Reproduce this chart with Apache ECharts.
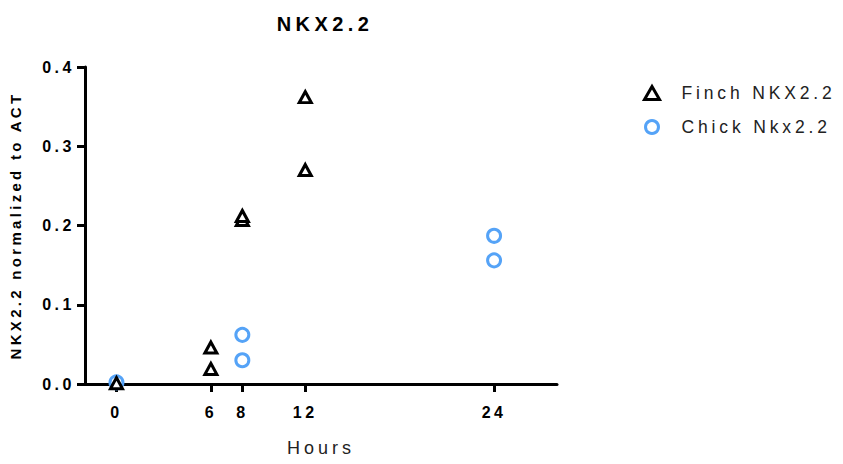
<!DOCTYPE html>
<html>
<head>
<meta charset="utf-8">
<script src="https://cdn.jsdelivr.net/npm/echarts@6/dist/echarts.min.js"></script>
<style>
  html, body { margin: 0; padding: 0; background: #fff; }
  #chart { width: 843px; height: 464px; }
  /* wide tracking on every label */
  #chart text { letter-spacing: 0.22em; }
</style>
</head>
<body>
<div id="chart"></div>
<script>
// Time points (hours) and expression values, normalized to ACT
const finchHours = [0, 6, 6, 8, 8, 12, 12];
const finchValues = [0.001, 0.046, 0.019, 0.207, 0.212, 0.362, 0.270];
const chickHours = [0, 8, 8, 24, 24];
const chickValues = [0.002, 0.062, 0.030, 0.187, 0.156];
const hourTicks = [0, 6, 8, 12, 24];
const seriesNames = ['Finch NKX2.2', 'Chick Nkx2.2'];

const FONT = '"Liberation Sans", Arial, Helvetica, sans-serif';
const BLUE = '#55a3f7';

const pairs = (xs, ys) => xs.map((x, i) => [x, ys[i]]);

const chart = echarts.init(document.getElementById('chart'), null, { renderer: 'svg' });
chart.setOption({
  animation: false,
  backgroundColor: '#fff',
  textStyle: { fontFamily: FONT },
  title: {
    text: 'NKX2.2',
    left: 320,
    textAlign: 'center',
    top: 9,
    textStyle: { fontFamily: FONT, fontSize: 20, fontWeight: 'bold', color: '#000' }
  },
  legend: {
    orient: 'vertical',
    left: 638,
    top: 79,
    itemGap: 16,
    itemWidth: 15,
    itemHeight: 13,
    data: seriesNames,
    itemStyle: { borderWidth: 3 },
    textStyle: { fontFamily: FONT, fontSize: 17.5, color: '#222', padding: [0, 0, 0, 17] }
  },
  grid: { left: 81, right: 286, top: 67, bottom: 80, containLabel: false },
  xAxis: {
    type: 'value',
    min: -2,
    max: 28,
    name: 'Hours',
    nameLocation: 'middle',
    nameGap: 55,
    nameTextStyle: { fontFamily: FONT, fontSize: 18, color: '#222' },
    axisLine: { onZero: false, lineStyle: { color: '#000', width: 3 } },
    axisTick: { customValues: hourTicks, length: 8, lineStyle: { color: '#000', width: 3 } },
    axisLabel: {
      customValues: hourTicks,
      margin: 20,
      fontFamily: FONT, fontSize: 16, fontWeight: 'bold', color: '#000'
    },
    splitLine: { show: false }
  },
  yAxis: {
    type: 'value',
    min: 0,
    max: 0.4,
    interval: 0.1,
    name: 'NKX2.2 normalized to ACT',
    nameLocation: 'middle',
    nameGap: 62,
    nameTextStyle: { fontFamily: FONT, fontSize: 15, fontWeight: 'bold', color: '#000' },
    axisLine: { show: true, onZero: false, lineStyle: { color: '#000', width: 3 } },
    axisTick: { show: true, length: 8, lineStyle: { color: '#000', width: 3 } },
    axisLabel: {
      margin: 10,
      formatter: v => v.toFixed(1),
      fontFamily: FONT, fontSize: 16, fontWeight: 'bold', color: '#000'
    },
    splitLine: { show: false }
  },
  series: [
    {
      name: seriesNames[1],
      type: 'scatter',
      z: 2,
      symbol: 'circle',
      symbolSize: 13,
      itemStyle: { color: '#fff', borderColor: BLUE, borderWidth: 3, opacity: 1 },
      data: pairs(chickHours, chickValues)
    },
    {
      name: seriesNames[0],
      type: 'scatter',
      z: 3,
      symbol: 'triangle',
      symbolSize: [12, 11],
      itemStyle: { color: '#fff', borderColor: '#000', borderWidth: 3, opacity: 1 },
      data: pairs(finchHours, finchValues)
    }
  ]
});
</script>
</body>
</html>
